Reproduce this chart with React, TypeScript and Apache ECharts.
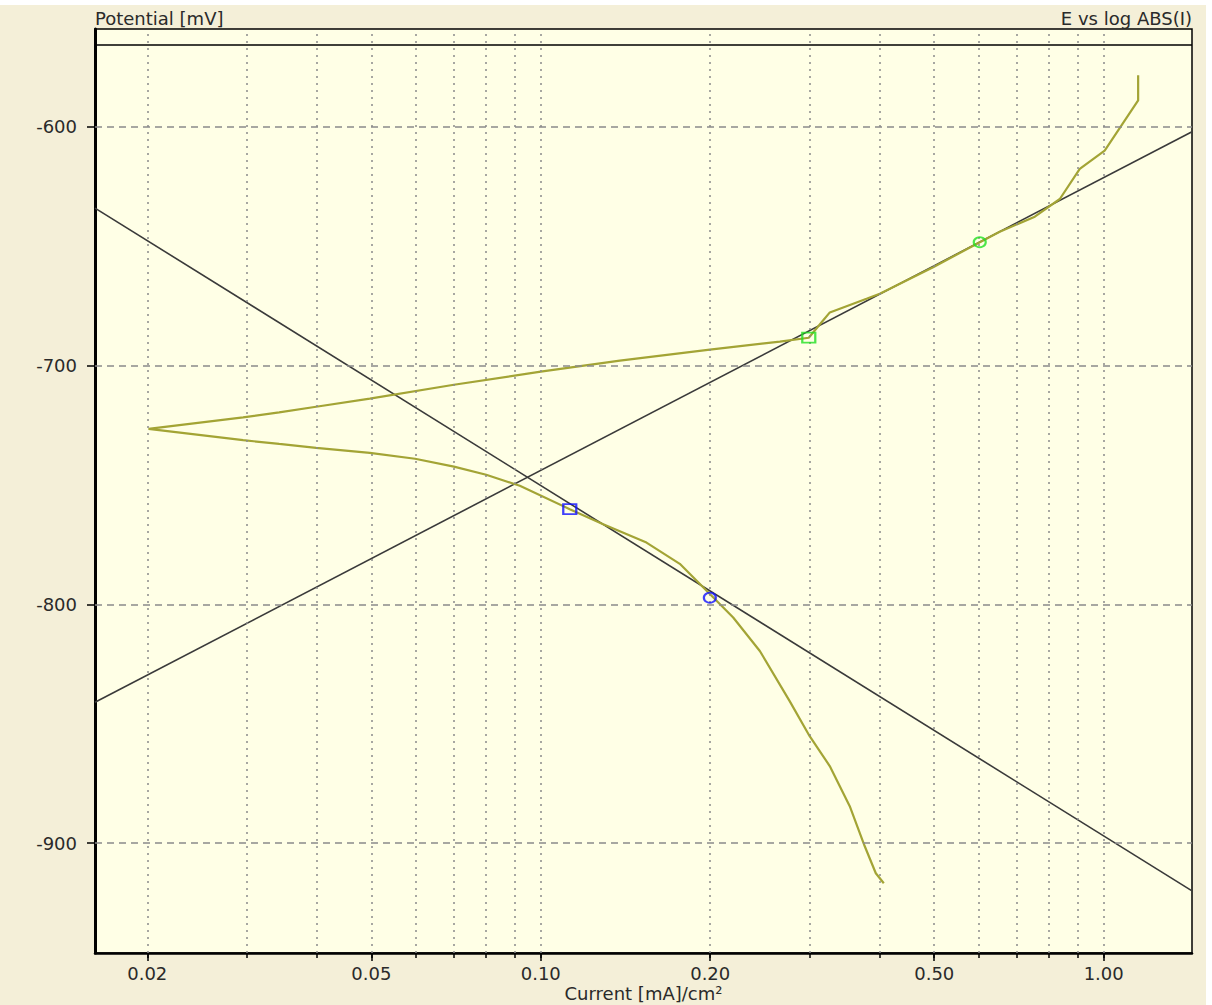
import React, { useEffect, useRef } from "react";
import * as echarts from "echarts";

// ---------- data ----------
const xMin = 0.01615;
const xMax = 1.435;
const yMin = -946;
const yMax = -559;
const topRulePotential = -565.5;

const xLabelValues = [0.02, 0.05, 0.1, 0.2, 0.5, 1.0];
const xGridValues = [
  0.02, 0.03, 0.04, 0.05, 0.06, 0.07, 0.08, 0.09,
  0.1, 0.2, 0.3, 0.4, 0.5, 0.6, 0.7, 0.8, 0.9, 1.0,
];
const yTickValues = [-900, -800, -700, -600];

// polarization curve (current mA/cm², potential mV), in scan order
const curveCurrent = [
  0.4068, 0.3937, 0.3763, 0.3539, 0.3261, 0.3004, 0.2768, 0.245, 0.2197, 0.1997,
  0.1766, 0.1541, 0.1291, 0.1126, 0.0918, 0.08, 0.0701, 0.0598, 0.0497, 0.0399,
  0.0343, 0.0296, 0.0201,
  0.0296, 0.0343, 0.0399, 0.0497, 0.0701, 0.1, 0.1382, 0.1997, 0.2659, 0.2993,
  0.3173, 0.3262, 0.3791, 0.4002, 0.4977, 0.6023, 0.6536, 0.7545, 0.8357, 0.9067,
  1.004, 1.1513, 1.1513,
];
const curvePotential = [
  -916.8, -912.6, -901.3, -884.5, -867.7, -855.2, -840.5, -819.5, -805.5, -795.6,
  -783.0, -774.1, -766.4, -760.1, -750.3, -745.7, -742.3, -739.0, -736.5, -734.4,
  -732.8, -731.2, -726.5,
  -721.7, -719.6, -717.2, -713.8, -708.0, -702.5, -697.9, -693.3, -689.9, -688.3,
  -681.1, -677.7, -672.0, -669.9, -658.8, -648.3, -643.9, -637.6, -630.2, -617.6,
  -609.9, -588.9, -578.4,
];

// Tafel fit lines (endpoints at plot edges)
const cathodicFitCurrent = [0.01615, 1.435];
const cathodicFitPotential = [-634, -920];
const anodicFitCurrent = [0.01615, 1.435];
const anodicFitPotential = [-841, -602];

// Tafel region markers
const cathodicMarkerCurrent = [0.1126, 0.1997];
const cathodicMarkerPotential = [-760.1, -797.2];
const anodicMarkerCurrent = [0.2993, 0.6023];
const anodicMarkerPotential = [-688.3, -648.3];

// ---------- styles ----------
const FONT = "DejaVu Sans";
const TEXT = "#2a2a2a";
const OUTER_BG = "#F4EFD8";
const PLOT_BG = "#FFFFE6";
const CURVE = "#A3A435";
const FIT = "#3a3a3a";
const GRID = "#8a8a8a";

const zip = (a: number[], b: number[]) => a.map((v, i) => [v, b[i]]);

export default function App() {
  const ref = useRef<HTMLDivElement>(null);

  useEffect(() => {
    if (!ref.current) return;
    const chart = echarts.init(ref.current, null, { renderer: "svg" });

    const textStyle = { fontFamily: FONT, fontSize: 18, color: TEXT, lineHeight: 20 };

    const option: any = {
      animation: false,
      backgroundColor: OUTER_BG,
      title: [
        {
          text: "Potential [mV]",
          left: 95,
          top: 3,
          padding: 0,
          textStyle: { ...textStyle, fontWeight: "normal" },
        },
        {
          text: "E vs log ABS(I)",
          right: 14,
          top: 3,
          padding: 0,
          textStyle: { ...textStyle, fontWeight: "normal" },
        },
      ],
      grid: {
        left: 95,
        right: 14,
        top: 24,
        bottom: 52,
        show: true,
        backgroundColor: PLOT_BG,
        borderColor: "#000",
        borderWidth: 1.5,
        containLabel: false,
        outerBoundsMode: "none",
      },
      xAxis: [
        {
          type: "log",
          logBase: 10,
          min: xMin,
          max: xMax,
          position: "bottom",
          name: "Current [mA]/cm²",
          nameLocation: "middle",
          nameGap: 31,
          nameMoveOverlap: false,
          nameTextStyle: { ...textStyle, lineHeight: 18, verticalAlign: "top" },
          axisLine: { show: true, lineStyle: { color: "#000", width: 2.5 } },
          axisTick: {
            show: true,
            customValues: xLabelValues,
            length: 8,
            lineStyle: { color: "#000", width: 1.5 },
          },
          axisLabel: {
            show: true,
            customValues: xLabelValues,
            margin: 10,
            formatter: (v: number) => Number(v).toFixed(2),
            ...textStyle,
          },
          splitLine: { show: false },
          minorTick: { show: false },
        },
        {
          type: "log",
          logBase: 10,
          min: xMin,
          max: xMax,
          position: "bottom",
          axisLine: { show: false },
          axisTick: {
            show: true,
            customValues: xGridValues,
            length: 5,
            lineStyle: { color: "#000", width: 1.5 },
          },
          axisLabel: { show: false },
          splitLine: { show: false },
        },
      ],
      yAxis: {
        type: "value",
        min: yMin,
        max: yMax,
        axisLine: { show: true, lineStyle: { color: "#000", width: 3 } },
        axisTick: {
          show: true,
          customValues: yTickValues,
          length: 8,
          lineStyle: { color: "#000", width: 1.5 },
        },
        axisLabel: {
          show: true,
          customValues: yTickValues,
          margin: 18,
          ...textStyle,
        },
        splitLine: { show: false },
      },
      series: [
        {
          name: "grid",
          type: "line",
          data: [],
          z: 1,
          silent: true,
          markLine: {
            silent: true,
            symbol: ["none", "none"],
            label: { show: false },
            animation: false,
            data: [
              ...xGridValues.map((v) => ({
                xAxis: v,
                lineStyle: { color: GRID, type: [2, 5], width: 1.5 },
              })),
              ...yTickValues.map((v) => ({
                yAxis: v,
                lineStyle: { color: GRID, type: [7, 5], width: 1.5 },
              })),
              {
                yAxis: topRulePotential,
                lineStyle: { color: "#000", type: "solid", width: 1.5 },
              },
            ],
          },
        },
        {
          name: "cathodic fit",
          type: "line",
          data: zip(cathodicFitCurrent, cathodicFitPotential),
          showSymbol: false,
          symbol: "none",
          z: 3,
          lineStyle: { color: FIT, width: 1.6 },
        },
        {
          name: "anodic fit",
          type: "line",
          data: zip(anodicFitCurrent, anodicFitPotential),
          showSymbol: false,
          symbol: "none",
          z: 3,
          lineStyle: { color: FIT, width: 1.6 },
        },
        {
          name: "curve",
          type: "line",
          data: zip(curveCurrent, curvePotential),
          showSymbol: false,
          symbol: "none",
          z: 4,
          lineStyle: { color: CURVE, width: 2.2 },
        },
        {
          name: "cathodic markers",
          type: "scatter",
          z: 5,
          data: [
            {
              value: [cathodicMarkerCurrent[0], cathodicMarkerPotential[0]],
              symbol: "rect",
              symbolSize: [13, 10],
            },
            {
              value: [cathodicMarkerCurrent[1], cathodicMarkerPotential[1]],
              symbol: "circle",
              symbolSize: [12, 10],
            },
          ],
          itemStyle: { color: "rgba(0,0,0,0)", borderColor: "#1010FF", borderWidth: 2 },
        },
        {
          name: "anodic markers",
          type: "scatter",
          z: 5,
          data: [
            {
              value: [anodicMarkerCurrent[0], anodicMarkerPotential[0]],
              symbol: "rect",
              symbolSize: [13, 10],
            },
            {
              value: [anodicMarkerCurrent[1], anodicMarkerPotential[1]],
              symbol: "circle",
              symbolSize: [12, 10],
            },
          ],
          itemStyle: { color: "rgba(0,0,0,0)", borderColor: "#22E022", borderWidth: 2 },
        },
      ],
    };

    chart.setOption(option);
    return () => chart.dispose();
  }, []);

  return (
    <div
      style={{
        position: "fixed",
        left: 0,
        top: 0,
        width: 1212,
        height: 1005,
        background: "#ffffff",
      }}
    >
      <div
        ref={ref}
        style={{ position: "absolute", left: 0, top: 5, width: 1206, height: 1000 }}
      />
    </div>
  );
}
